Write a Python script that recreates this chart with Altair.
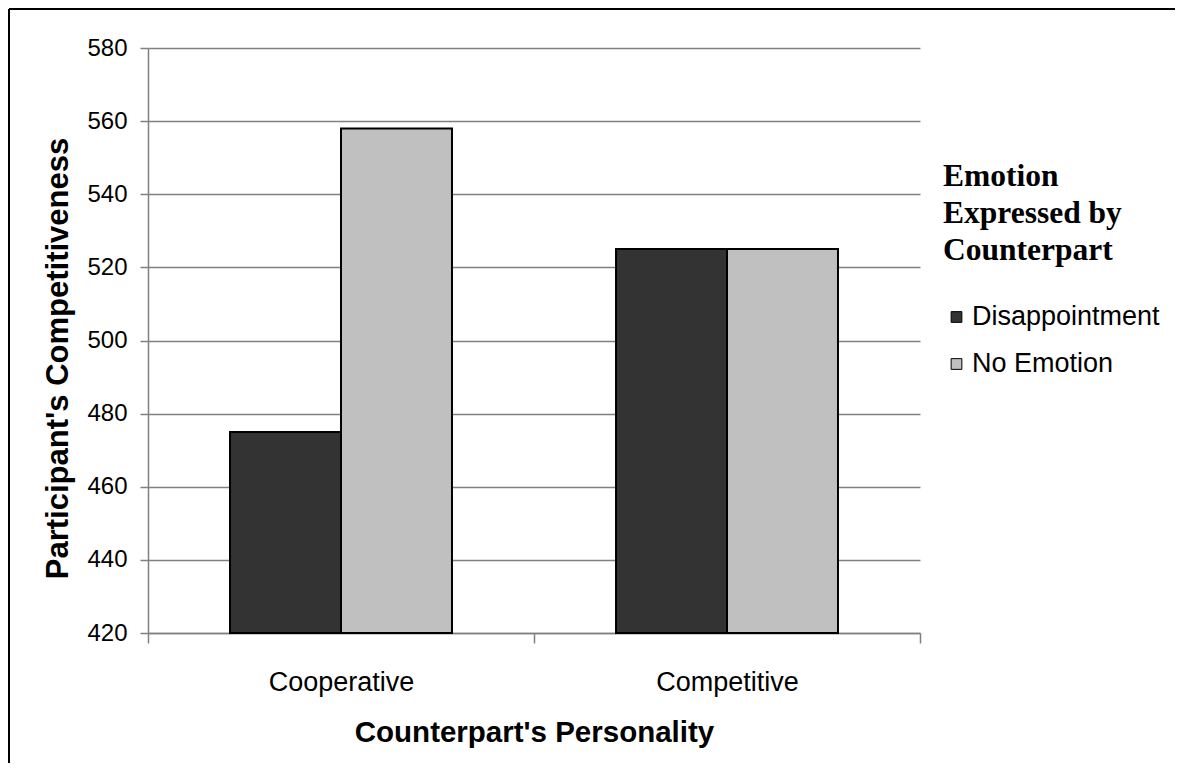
import altair as alt
import pandas as pd

categories = ["Cooperative", "Competitive"]
emotions = ["Disappointment", "No Emotion"]
personality = ["Cooperative", "Cooperative", "Competitive", "Competitive"]
emotion = ["Disappointment", "No Emotion", "Disappointment", "No Emotion"]
values = [475, 558, 525, 525]
y_ticks = [420, 440, 460, 480, 500, 520, 540, 560, 580]
bar_colors = ["#333333", "#C0C0C0"]

df = pd.DataFrame({"personality": personality, "emotion": emotion, "value": values})

W, H = 772, 585

bars = alt.Chart(df).mark_bar(stroke="black", strokeWidth=2).encode(
    x=alt.X("personality:N", sort=categories,
            scale=alt.Scale(paddingInner=0, paddingOuter=0),
            axis=alt.Axis(title="Counterpart's Personality", labelAngle=0, tickBand="extent",
                          labelFont="Liberation Sans", labelFontSize=27, labelColor="black",
                          labelPadding=26, tickSize=10, tickColor="#808080", domainColor="#808080",
                          titleFont="Liberation Sans", titleFontSize=29.5, titleFontWeight="bold",
                          titleColor="black", titlePadding=23)),
    xOffset=alt.XOffset("emotion:N", sort=emotions,
                        scale=alt.Scale(paddingInner=0, paddingOuter=0.739)),
    y=alt.Y("value:Q", scale=alt.Scale(domain=[420, 580], nice=False, zero=False),
            axis=alt.Axis(values=y_ticks, title="Participant's Competitiveness",
                          labelFont="Liberation Sans", labelFontSize=24, labelColor="black",
                          labelPadding=13, tickSize=8, tickColor="#808080", domainColor="#808080",
                          gridColor="#808080", grid=True,
                          titleFont="Liberation Sans", titleFontSize=31, titleFontWeight="bold",
                          titleColor="black", titleX=-74, titleY=310)),
    y2=alt.datum(420),
    color=alt.Color("emotion:N", sort=emotions,
                    scale=alt.Scale(domain=emotions, range=bar_colors),
                    legend=alt.Legend(orient="none", legendX=795, legendY=113,
                                      title=["Emotion", "Expressed by", "Counterpart"],
                                      titleFont="Liberation Serif", titleFontSize=31.5,
                                      titleFontWeight="bold", titleColor="black",
                                      titleLineHeight=37, titlePadding=37,
                                      labelFont="Liberation Sans", labelFontSize=27,
                                      labelColor="black", labelOffset=2, labelLimit=400,
                                      symbolType="square", symbolSize=115,
                                      symbolStrokeColor="black", symbolStrokeWidth=1,
                                      rowPadding=19)),
)

border_df = pd.DataFrame({"k": [0]})
top_border = alt.Chart(border_df).mark_rule(color="black", strokeWidth=2).encode(
    x=alt.value(-139), x2=alt.value(1040), y=alt.value(-39))
left_border = alt.Chart(border_df).mark_rule(color="black", strokeWidth=2).encode(
    x=alt.value(-139), y=alt.value(-39), y2=alt.value(740))

chart = alt.layer(bars, top_border, left_border).properties(
    width=W, height=H,
    autosize=alt.AutoSizeParams(type="none"),
    padding={"left": 140, "top": 40, "right": 255, "bottom": 130},
).configure_view(stroke=None).configure_axis(gridWidth=1.5, domainWidth=1.5, tickWidth=1.5)

chart.save("out.html", embed_options={"renderer": "svg", "actions": False})
